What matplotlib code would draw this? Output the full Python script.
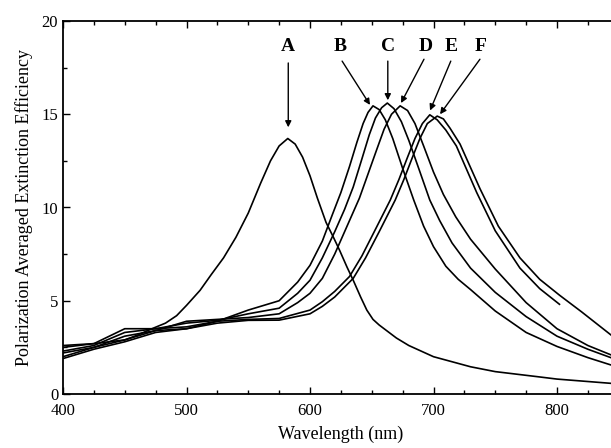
import matplotlib
matplotlib.use("Agg")
import matplotlib.pyplot as plt
from matplotlib.ticker import MultipleLocator

# ---- data ----
wl_A = [400, 425, 450, 460, 472, 483, 492, 500, 511, 520, 530, 540, 550, 560, 568, 575, 582, 588, 594, 600, 606, 613, 619, 624, 630, 635, 641, 646, 651, 656, 661, 670, 680, 690, 700, 730, 750, 784, 800, 844, 850]
ext_A = [2.0, 2.5, 2.9, 3.15, 3.5, 3.8, 4.2, 4.75, 5.56, 6.4, 7.3, 8.4, 9.7, 11.3, 12.5, 13.3, 13.7, 13.4, 12.7, 11.7, 10.5, 9.2, 8.4, 7.7, 6.8, 6.1, 5.2, 4.5, 4.0, 3.7, 3.45, 3.0, 2.6, 2.3, 2.0, 1.46, 1.2, 0.93, 0.8, 0.57, 0.55]

wl_B = [400, 425, 450, 475, 500, 525, 550, 575, 590, 600, 610, 618, 625, 632, 638, 643, 647, 651, 656, 661, 667, 675, 684, 692, 700, 710, 720, 730, 750, 775, 800, 825, 844, 850]
ext_B = [2.5, 2.7, 3.5, 3.5, 3.6, 3.9, 4.5, 5.0, 6.0, 6.9, 8.2, 9.6, 10.8, 12.2, 13.5, 14.5, 15.1, 15.45, 15.25, 14.7, 13.7, 12.1, 10.4, 9.0, 7.9, 6.85, 6.15, 5.6, 4.45, 3.3, 2.55, 1.95, 1.55, 1.45]

wl_C = [400, 425, 450, 475, 500, 525, 550, 575, 590, 600, 610, 620, 628, 635, 642, 648, 653, 658, 662.6, 668, 674, 680, 688, 697, 705, 715, 730, 750, 775, 800, 825, 844, 850]
ext_C = [2.3, 2.6, 3.3, 3.5, 3.8, 3.95, 4.3, 4.6, 5.4, 6.1, 7.3, 8.7, 9.9, 11.1, 12.6, 13.9, 14.8, 15.35, 15.6, 15.3, 14.6, 13.6, 12.1, 10.4, 9.3, 8.1, 6.75, 5.45, 4.15, 3.1, 2.4, 1.94, 1.85]

wl_D = [400, 425, 450, 475, 500, 525, 550, 575, 590, 600, 610, 620, 630, 640, 647, 654, 660, 666, 673, 679, 685, 692, 700, 708, 718, 730, 750, 775, 800, 825, 844, 850]
ext_D = [2.2, 2.5, 3.1, 3.4, 3.9, 4.0, 4.1, 4.3, 4.9, 5.4, 6.2, 7.5, 9.0, 10.5, 11.8, 13.1, 14.2, 15.0, 15.45, 15.2, 14.5, 13.3, 11.9, 10.7, 9.5, 8.3, 6.7, 4.9, 3.5, 2.6, 2.09, 2.0]

wl_E = [400, 425, 450, 475, 500, 525, 550, 575, 600, 610, 620, 632, 642, 652, 665, 672, 679, 685, 691, 697, 703, 710, 718.5, 735, 750, 770, 786, 802]
ext_E = [2.6, 2.7, 2.9, 3.4, 3.5, 3.9, 4.0, 4.05, 4.5, 4.95, 5.5, 6.3, 7.4, 8.7, 10.4, 11.5, 12.7, 13.7, 14.5, 14.97, 14.7, 14.15, 13.3, 10.8, 8.75, 6.75, 5.65, 4.81]

wl_F = [400, 425, 450, 475, 500, 525, 550, 575, 600, 610, 620, 635, 645, 656, 669, 676, 683, 689, 695, 703, 708, 713.4, 721.5, 737.7, 752.5, 770, 786, 802, 820, 844, 850]
ext_F = [1.9, 2.4, 2.8, 3.3, 3.5, 3.8, 3.95, 3.96, 4.3, 4.7, 5.2, 6.2, 7.3, 8.7, 10.4, 11.5, 12.7, 13.7, 14.5, 14.9, 14.75, 14.25, 13.4, 11.0, 9.0, 7.3, 6.15, 5.3, 4.4, 3.15, 3.0]

labels = ["A", "B", "C", "D", "E", "F"]
label_x = [582.4, 624.3, 663.0, 693.5, 714.0, 738.5]
arrow_tail = [(582.4, 17.75), (626.0, 17.85), (663.0, 17.85), (692.3, 17.95), (714.0, 17.85), (737.6, 17.95)]
arrow_head = [(582.4, 14.3), (648.6, 15.5), (663.0, 15.75), (673.7, 15.6), (697.2, 15.2), (705.3, 15.0)]

plt.rcParams['font.family'] = ['Liberation Serif', 'DejaVu Serif']

fig = plt.figure(figsize=(6.11, 4.48), dpi=100)
ax = fig.add_axes([63/611, 54/448, 555.75/611, 373/448])

for wl, ex in [(wl_A, ext_A), (wl_B, ext_B), (wl_C, ext_C), (wl_D, ext_D), (wl_E, ext_E), (wl_F, ext_F)]:
    ax.plot(wl, ex, color='black', lw=1.2)

for lab, lx, t, h in zip(labels, label_x, arrow_tail, arrow_head):
    ax.text(lx, 18.62, lab, ha='center', va='center', fontsize=14, fontweight='bold')
    ax.annotate('', xy=h, xytext=t,
                arrowprops=dict(arrowstyle='-|>', color='black', lw=1.0, mutation_scale=9,
                                shrinkA=0, shrinkB=0))

ax.set_xlim(400, 850)
ax.set_ylim(0, 20)
ax.xaxis.set_major_locator(MultipleLocator(100))
ax.xaxis.set_minor_locator(MultipleLocator(25))
ax.yaxis.set_major_locator(MultipleLocator(5))
ax.yaxis.set_minor_locator(MultipleLocator(2.5))
ax.tick_params(which='both', direction='in', top=True, right=False, labelsize=12)
ax.tick_params(which='major', length=5, width=1)
ax.tick_params(which='minor', length=3, width=1)
ax.tick_params(axis='x', which='major', pad=6.5)
for s in ['left', 'bottom', 'top']:
    ax.spines[s].set_linewidth(1.3)
ax.spines['right'].set_visible(False)

ax.set_xlabel('Wavelength (nm)', fontsize=13, labelpad=5)
ax.set_ylabel('Polarization Averaged Extinction Efficiency', fontsize=13, labelpad=6)

fig.savefig('out.png', dpi=100)
